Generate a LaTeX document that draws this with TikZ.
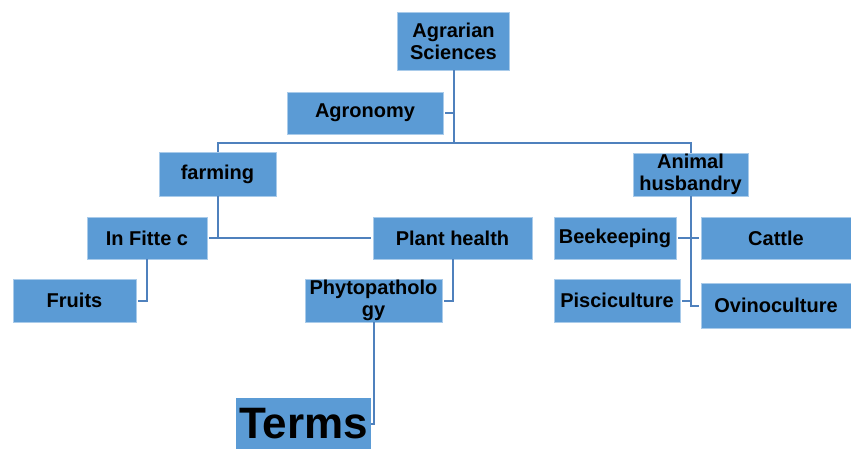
\documentclass[tikz,border=0pt]{standalone}
\usepackage{fontspec}
\setmainfont{Liberation Sans}
\usetikzlibrary{positioning}
\definecolor{boxblue}{HTML}{5B9BD5}
\definecolor{linkblue}{HTML}{4F81BD}
\definecolor{edgeblue}{HTML}{A9CBEA}

\begin{document}
\begin{tikzpicture}[x=1pt, y=-1pt,
    box/.style={fill=boxblue, draw=edgeblue, line width=0.8pt, inner sep=0pt, align=center,
      font=\bfseries\fontsize{20}{22}\selectfont},
    link/.style={draw=linkblue, line width=2pt}]
  \useasboundingbox (0,0) rectangle (851,449);

  % top level
  \node[box, minimum width=112pt, minimum height=58pt] (agrarian) at (453.5,41) {Agrarian\\Sciences};
  \node[box, minimum width=156pt, minimum height=42pt] (agronomy) at (365,113) {Agronomy};
  \coordinate (hub) at (453.5,143);

  % second level
  \node[box, minimum width=117pt, minimum height=44pt] (farming) at (217.5,174) {farming};
  \node[box, minimum width=115pt, minimum height=43pt] (animal) at (690.5,174.5) {Animal\\husbandry};

  % plants side
  \node[box, minimum width=120pt, minimum height=42pt] (infitte) at (147,238) {In Fitte c};
  \node[box, minimum width=159pt, minimum height=42pt] (plant) at (452.5,238) {Plant health};
  \node[box, minimum width=123pt, minimum height=43pt] (fruits) at (74.5,300.5) {Fruits};
  \node[box, minimum width=137pt, minimum height=43pt] (phyto) at (373.5,300.5) {Phytopatholo\\gy};
  \node[fill=boxblue, inner sep=0pt, minimum width=135pt, minimum height=51pt,
    font=\bfseries\fontsize{44}{46}\selectfont] (terms) at (303.5,423.5) {Terms};

  % animals side
  \node[box, minimum width=122pt, minimum height=42pt] (bee) at (615,238) {Beekeeping};
  \node[box, minimum width=150pt, minimum height=42pt] (cattle) at (776,238) {Cattle};
  \node[box, minimum width=126pt, minimum height=43pt] (pisci) at (617,300.5) {Pisciculture};
  \node[box, minimum width=150pt, minimum height=45pt] (ovino) at (776,305.5) {Ovinoculture};

  % connectors
  \draw[link] (agrarian.south) -- (hub);
  \draw[link] ([xshift=2pt]agronomy.east) -- (agronomy.east -| hub);
  \draw[link] (farming.north) |- (hub) -| (animal.north);
  \draw[link] ([xshift=2pt]infitte.east) -- ([xshift=-2pt]plant.west);
  \draw[link] (farming.south) -- (farming.south |- infitte.east);
  \draw[link] (infitte.south) |- ([xshift=2pt]fruits.east);
  \draw[link] (plant.south) |- ([xshift=2pt]phyto.east);
  \draw[link] (phyto.south) |- (terms.east);
  \draw[link] (animal.south) |- ([xshift=-2pt]ovino.west);
  \draw[link] ([xshift=2pt]bee.east) -- ([xshift=-2pt]cattle.west);
  \draw[link] ([xshift=2pt]pisci.east) -- (pisci.east -| animal.south);
\end{tikzpicture}
\end{document}
